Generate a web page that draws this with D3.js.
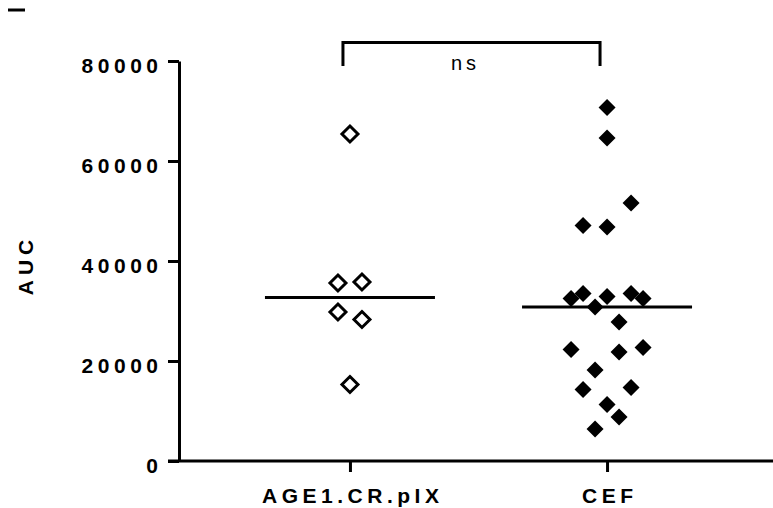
<!DOCTYPE html>
<html>
<head>
<meta charset="utf-8">
<script src="https://cdn.jsdelivr.net/npm/d3@7"></script>
<style>
  body { margin: 0; background: #fff; }
  text { font-family: "Liberation Sans", Arial, sans-serif; fill: #000; }
</style>
</head>
<body>
<script>
// data
var categories = ["AGE1.CR.pIX", "CEF"];
var ageValues = [65400, 35600, 35800, 29800, 28300, 15300];
var ageLanes  = [0, -1, 1, -1, 1, 0];
var cefValues = [70700, 64600, 51600, 47100, 46800, 33500, 32500, 32900, 33500, 32500,
                 30800, 27800, 22300, 21800, 22700, 18200, 14300, 14700, 11300, 8800, 6400];
var cefLanes  = [0, 0, 2, -2, 0, -2, -3, 0, 2, 3,
                 -1, 1, -3, 1, 3, -1, -2, 2, 0, 1, -1];
var yTicks = [0, 20000, 40000, 60000, 80000];
var yLabel = "AUC";
var sigLabel = "ns";

var width = 773, height = 508;

var svg = d3.select("body").append("svg")
    .attr("width", width)
    .attr("height", height);

var y = d3.scaleLinear().domain([0, 80000]).range([461, 61]);
var x = d3.scalePoint().domain(categories).range([179, 778]).padding(0.665);
var lane = d3.scaleLinear().domain([-1, 1]).range([-12, 12]);

// y axis
var yAxis = svg.append("g")
    .attr("transform", "translate(179,0)")
    .call(d3.axisLeft(y).tickValues(yTicks).tickSize(11).tickSizeOuter(0).tickPadding(10).tickFormat(d3.format("d")));
yAxis.select(".domain").attr("stroke", "#000").attr("stroke-width", 3);
yAxis.selectAll(".tick line").attr("stroke", "#000").attr("stroke-width", 3);
yAxis.selectAll(".tick text")
    .attr("font-size", 21)
    .attr("font-weight", "bold")
    .attr("letter-spacing", 4.5)
    .attr("dx", 4.5)
    .attr("dy", "0.55em")
    .attr("fill", "#000")
    .style("font-family", "Liberation Sans, Arial, sans-serif");

// x axis
var xAxis = svg.append("g")
    .attr("transform", "translate(0,461)")
    .call(d3.axisBottom(x).tickSize(11).tickSizeOuter(0).tickPadding(18));
xAxis.select(".domain").attr("d", "M168,0H" + width).attr("stroke", "#000").attr("stroke-width", 3);
xAxis.selectAll(".tick line").attr("stroke", "#000").attr("stroke-width", 3);
xAxis.selectAll(".tick text")
    .attr("font-size", 21)
    .attr("font-weight", "bold")
    .attr("letter-spacing", 4.5)
    .attr("dx", 2.25)
    .attr("y", 42)
    .attr("dy", 0)
    .attr("fill", "#000")
    .style("font-family", "Liberation Sans, Arial, sans-serif");

// y label
svg.append("text")
    .attr("transform", "translate(33,265) rotate(-90)")
    .attr("text-anchor", "middle")
    .attr("font-size", 21)
    .attr("font-weight", "bold")
    .attr("letter-spacing", 5)
    .text(yLabel);

// median lines
var groups = [
  {cat: categories[0], values: ageValues, lanes: ageLanes, fill: "#fff", r: 8},
  {cat: categories[1], values: cefValues, lanes: cefLanes, fill: "#000", r: 8.5}
];

groups.forEach(function(g) {
  var m = d3.median(g.values);
  svg.append("line")
      .attr("x1", x(g.cat) - 85)
      .attr("x2", x(g.cat) + 85)
      .attr("y1", y(m))
      .attr("y2", y(m))
      .attr("stroke", "#000")
      .attr("stroke-width", 3);
});

// points
groups.forEach(function(g) {
  var diamond = function(d, i) {
    var cx = x(g.cat) + lane(g.lanes[i]);
    var cy = y(d);
    var r = g.r;
    return "M" + cx + "," + (cy - r) + "L" + (cx + r) + "," + cy + "L" + cx + "," + (cy + r) + "L" + (cx - r) + "," + cy + "Z";
  };
  svg.append("g").selectAll("path")
      .data(g.values)
      .enter()
      .append("path")
      .attr("d", diamond)
      .attr("fill", g.fill)
      .attr("stroke", "#000")
      .attr("stroke-width", g.fill == "#fff" ? 3 : 0);
});

// significance bracket
var x0 = x(categories[0]) - 7, x1 = x(categories[1]) - 7;
svg.append("path")
    .attr("d", "M" + x0 + ",66V42.5H" + x1 + "V66")
    .attr("fill", "none")
    .attr("stroke", "#000")
    .attr("stroke-width", 3);
svg.append("text")
    .attr("x", (x0 + x1) / 2 - 6)
    .attr("y", 70)
    .attr("text-anchor", "middle")
    .attr("font-size", 20)
    .attr("letter-spacing", 4)
    .text(sigLabel);

// cropped panel letter remnant at the top-left corner
svg.append("path")
    .attr("d", "M8,10H25")
    .attr("stroke", "#000")
    .attr("stroke-width", 3);
</script>
</body>
</html>
